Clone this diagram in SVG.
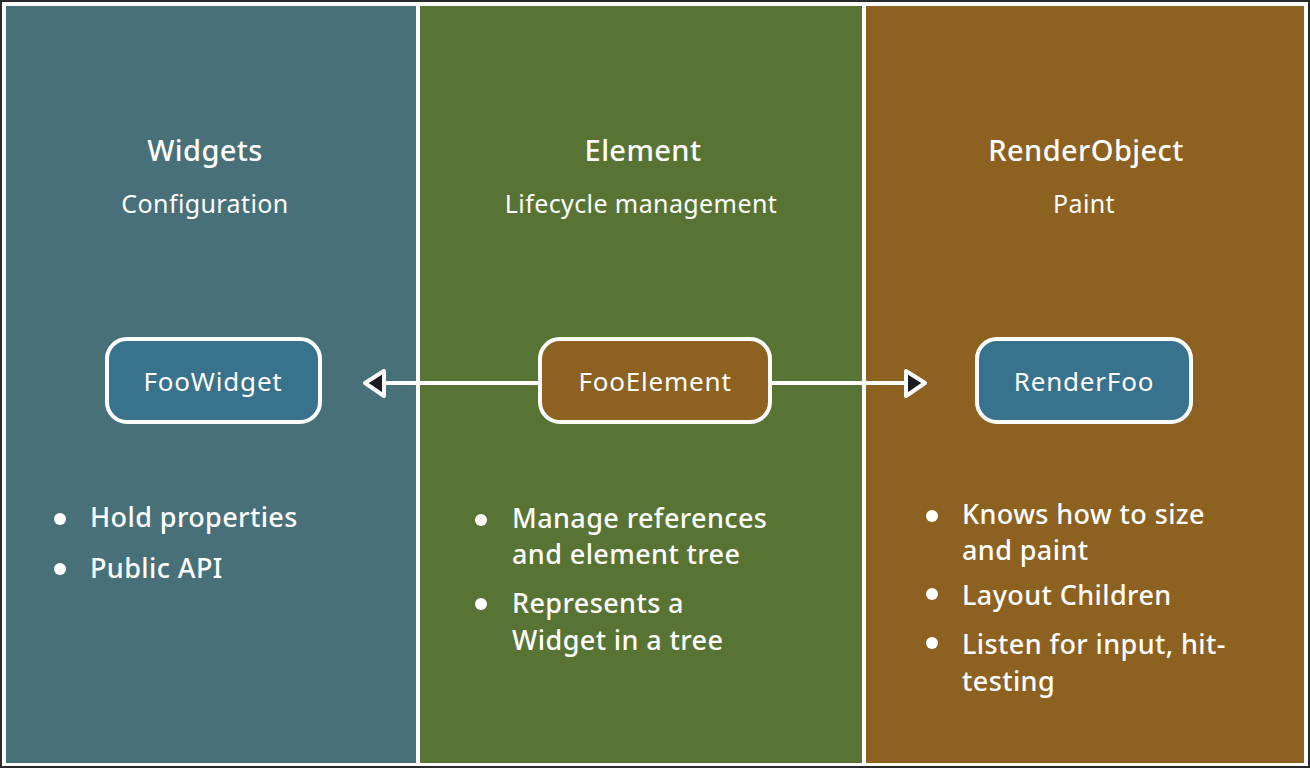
<svg xmlns="http://www.w3.org/2000/svg" width="1310" height="768" viewBox="0 0 1310 768">
  <defs>
    <style>
      .title { font-family: "Noto Sans", "Open Sans", sans-serif; font-size: 29px; letter-spacing: 0.4px; fill: #ffffff; text-anchor: middle; font-weight: 500; }
      .sub { font-family: "Noto Sans", "Open Sans", sans-serif; font-size: 25px; letter-spacing: 0.4px; fill: #ffffff; text-anchor: middle; }
      .bul { font-family: "Noto Sans", "Open Sans", sans-serif; font-size: 27px; letter-spacing: 0.4px; fill: #ffffff; font-weight: 500; }
      .lbl { font-family: "Noto Sans", "Open Sans", sans-serif; font-size: 26px; letter-spacing: 0.8px; fill: #ffffff; text-anchor: middle; }
      .node { stroke: #ffffff; stroke-width: 4; }
      .dot { fill: #ffffff; }
      .conn { stroke: #ffffff; stroke-width: 4; fill: none; }
      .head { fill: #1b1b22; stroke: #ffffff; stroke-width: 4; stroke-linejoin: round; }
    </style>
  </defs>
  <rect x="1" y="1" width="1308" height="766" fill="#ffffff" stroke="#2a2a2a" stroke-width="2"/>
  <g id="panel-widgets">
    <rect x="6" y="6" width="410" height="757" fill="#477078"/>
    <text class="title" x="205" y="161">Widgets</text>
    <text class="sub" x="205" y="213">Configuration</text>
    <circle class="dot" cx="60" cy="519" r="6"/>
    <text class="bul" x="90" y="527">Hold properties</text>
    <circle class="dot" cx="60" cy="569" r="6"/>
    <text class="bul" x="90" y="578">Public API</text>
  </g>
  <g id="panel-element">
    <rect x="420" y="6" width="442" height="757" fill="#587434"/>
    <text class="title" x="643" y="161">Element</text>
    <text class="sub" x="641" y="213">Lifecycle management</text>
    <circle class="dot" cx="481" cy="520" r="6"/>
    <text class="bul" x="512" y="528">Manage references</text>
    <text class="bul" x="512" y="564">and element tree</text>
    <circle class="dot" cx="481" cy="604" r="6"/>
    <text class="bul" x="512" y="613">Represents a</text>
    <text class="bul" x="512" y="650">Widget in a tree</text>
  </g>
  <g id="panel-renderobject">
    <rect x="866" y="6" width="438" height="757" fill="#8d6120"/>
    <text class="title" x="1086" y="161">RenderObject</text>
    <text class="sub" x="1084" y="213">Paint</text>
    <circle class="dot" cx="932" cy="516" r="6"/>
    <text class="bul" x="962" y="524">Knows how to size</text>
    <text class="bul" x="962" y="560">and paint</text>
    <circle class="dot" cx="932" cy="594" r="6"/>
    <text class="bul" x="962" y="605">Layout Children</text>
    <circle class="dot" cx="932" cy="643" r="6"/>
    <text class="bul" x="962" y="654">Listen for input, hit-</text>
    <text class="bul" x="962" y="691">testing</text>
  </g>
  <g id="connectors">
    <line class="conn" x1="539" y1="383" x2="382" y2="383"/>
    <polygon class="head" points="384,371 365,383 384,396"/>
    <line class="conn" x1="771" y1="383" x2="906" y2="383"/>
    <polygon class="head" points="906,371 925,383 906,396"/>
  </g>
  <g id="node-foowidget">
    <rect class="node" x="107" y="339" width="213" height="83" rx="20" fill="#38728c"/>
    <text class="lbl" x="213" y="391">FooWidget</text>
  </g>
  <g id="node-fooelement">
    <rect class="node" x="540" y="339" width="230" height="83" rx="20" fill="#8d6120"/>
    <text class="lbl" x="655" y="391">FooElement</text>
  </g>
  <g id="node-renderfoo">
    <rect class="node" x="977" y="339" width="214" height="83" rx="20" fill="#38728c"/>
    <text class="lbl" x="1084" y="391">RenderFoo</text>
  </g>
</svg>
